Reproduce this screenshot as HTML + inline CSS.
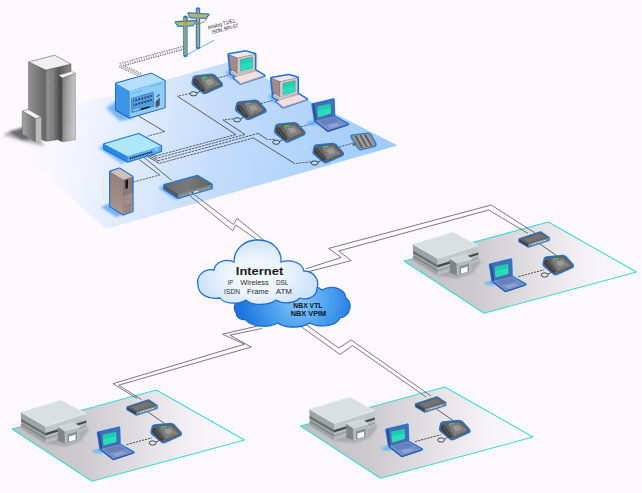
<!DOCTYPE html>
<html><head><meta charset="utf-8"><title>Network diagram</title>
<style>
html,body{margin:0;padding:0;background:#fdf8fe;}
body{width:642px;height:493px;overflow:hidden;font-family:"Liberation Sans",sans-serif;}
svg{display:block;}
text{font-family:"Liberation Sans",sans-serif;}
</style></head><body>
<svg width="642" height="493" viewBox="0 0 642 493">
<defs>
<!-- gradients -->
<linearGradient id="gMain" gradientUnits="userSpaceOnUse" x1="20" y1="110" x2="400" y2="175">
  <stop offset="0" stop-color="#fdf8fe"/>
  <stop offset="0.12" stop-color="#f7f6fe"/>
  <stop offset="0.2" stop-color="#eef2fd"/>
  <stop offset="0.3" stop-color="#e0ecfc"/>
  <stop offset="0.52" stop-color="#c4dcfb"/>
  <stop offset="0.8" stop-color="#aed2fb"/>
  <stop offset="1" stop-color="#9ac9fb"/>
</linearGradient>
<linearGradient id="gSite" gradientUnits="userSpaceOnUse" x1="0" y1="0" x2="232" y2="0">
  <stop offset="0" stop-color="#c2c2c4"/>
  <stop offset="0.35" stop-color="#cfcdd0"/>
  <stop offset="0.6" stop-color="#e6e3e7"/>
  <stop offset="0.85" stop-color="#f8f4f9"/>
  <stop offset="1" stop-color="#fdf8fe"/>
</linearGradient>
<radialGradient id="gCloudF" gradientUnits="userSpaceOnUse" cx="256" cy="276" r="58" gradientTransform="translate(0,110) scale(1,0.6)">
  <stop offset="0" stop-color="#f8fbff"/>
  <stop offset="0.55" stop-color="#eaf3fd"/>
  <stop offset="1" stop-color="#cfe3fa"/>
</radialGradient>
<radialGradient id="gCloudB" gradientUnits="userSpaceOnUse" cx="300" cy="300" r="60">
  <stop offset="0" stop-color="#8cc8fa"/>
  <stop offset="0.5" stop-color="#4aa0ee"/>
  <stop offset="1" stop-color="#1c74dc"/>
</radialGradient>
<linearGradient id="gTowerL" x1="0" y1="0" x2="1" y2="0">
  <stop offset="0" stop-color="#929292"/>
  <stop offset="0.5" stop-color="#7c7c7c"/>
  <stop offset="1" stop-color="#646464"/>
</linearGradient>
<linearGradient id="gTowerR" x1="0" y1="0" x2="1" y2="0">
  <stop offset="0" stop-color="#8e8e8e"/>
  <stop offset="0.3" stop-color="#7a7a7a"/>
  <stop offset="0.5" stop-color="#5a5a5a"/>
  <stop offset="1" stop-color="#8a8a8a"/>
</linearGradient>
<linearGradient id="gWing" x1="0" y1="0" x2="1" y2="0.15">
  <stop offset="0" stop-color="#7e7e7e"/>
  <stop offset="0.45" stop-color="#a4a4a4"/>
  <stop offset="1" stop-color="#c6c6c6"/>
</linearGradient>
<linearGradient id="gAnnex" x1="0" y1="0" x2="1" y2="0">
  <stop offset="0" stop-color="#a4a4a4"/>
  <stop offset="1" stop-color="#6c6c6c"/>
</linearGradient>
<linearGradient id="gShadow" gradientUnits="userSpaceOnUse" x1="5" y1="0" x2="45" y2="0">
  <stop offset="0" stop-color="#fdf8fe"/>
  <stop offset="0.5" stop-color="#d6d4d8"/>
  <stop offset="1" stop-color="#8c8c8e"/>
</linearGradient>
<linearGradient id="gSrvL" x1="0" y1="0" x2="0" y2="1">
  <stop offset="0" stop-color="#947c78"/>
  <stop offset="0.5" stop-color="#a08882"/>
  <stop offset="1" stop-color="#b0988e"/>
</linearGradient>
<linearGradient id="gRtTop" x1="0" y1="0" x2="1" y2="0">
  <stop offset="0" stop-color="#6a6a6a"/>
  <stop offset="0.5" stop-color="#7a7a7a"/>
  <stop offset="1" stop-color="#606060"/>
</linearGradient>
<filter id="blur1" x="-20%" y="-20%" width="140%" height="140%"><feGaussianBlur stdDeviation="0.8"/></filter>
<filter id="blur2" x="-20%" y="-20%" width="140%" height="140%"><feGaussianBlur stdDeviation="1.6"/></filter>

<!-- PHONE: local origin = top-left of bbox, approx 30x19 -->
<g id="phone">
  <ellipse cx="1.2" cy="18.8" rx="3.5" ry="2.1" fill="none" stroke="#222" stroke-width="0.8"/>
  <path d="M4.6 18 L9 15.5" stroke="#222" stroke-width="0.8" fill="none"/>
  <path d="M1.2 2.8 Q1.6 1.6 3.2 1.3 L19 -0.3 Q21 -0.4 22.2 0.9 L29.2 8.6 Q30.2 10 28.6 11 L13.6 17.8 Q11.6 18.6 10.2 17.2 L0.8 9.6 Q-0.2 8.6 0.2 7.2 Z" fill="#606060" stroke="#1b78e0" stroke-width="2.3" stroke-linejoin="round"/>
  <path d="M1.2 2.8 Q1.6 1.6 3.2 1.3 L19 -0.3 Q21 -0.4 22.2 0.9 L29.2 8.6 Q30.2 10 28.6 11 L13.6 17.8 Q11.6 18.6 10.2 17.2 L0.8 9.6 Q-0.2 8.6 0.2 7.2 Z" fill="#626262"/>
  <path d="M8 3.2 L19.5 1.6 L27.2 9.2 L14.4 14.8 Z" fill="#7e7e7e"/>
  <path d="M12.5 5 L18.8 4 L22.2 8.2 L15.8 10.4 Z" fill="#9a9a9a"/>
  <path d="M1.4 4.2 Q3.5 3.2 5 5.2 L11.6 14.2 Q12.4 16.4 10.6 16.4 Q9 16.4 7.8 15 L1.2 8.2 Q0.4 6 1.4 4.2 Z" fill="#3a3a3a"/>
  <path d="M2.6 5.2 L9.8 14.4" stroke="#5c5c5c" stroke-width="1.1" fill="none"/>
  <path d="M9.2 2.2 L14.2 1.5 L15 2.6 L10 3.4 Z" fill="#36d860"/>
  <rect x="23.3" y="8.6" width="1.3" height="1.3" fill="#e87020"/>
</g>

<!-- COMPUTER: local origin = top-left of bbox, approx 36x34 -->
<g id="pc">
  <polygon points="-3,22 3,19 8,27 2,29" fill="#58aef8" opacity="0.7" filter="url(#blur1)"/>
  <g stroke="#1a72dc" stroke-width="3" stroke-linejoin="round" fill="#1a72dc">
    <path d="M0.4 4 L17.6 1 L26.6 3.6 L26.6 19.4 L22 20.6 L28.4 20.6 L35.6 25 L12.2 32.8 L5.6 27.2 L8.4 26 L2 22.6 L2 18.6 Z"/>
  </g>
  <!-- base unit -->
  <path d="M2 20.4 L9 24.4 L27.6 19.6 L27.6 22 L9 26.8 L2 22.8 Z" fill="#c8b0b2"/>
  <path d="M2 20.4 L20 16.4 L27.6 19.6 L9 24.4 Z" fill="#f0dcdc"/>
  <!-- monitor -->
  <path d="M0.4 4 L17.6 1 L26.6 3.6 L8.9 7.4 Z" fill="#f4e4e4"/>
  <path d="M0.4 4 L8.9 7.4 L8.9 22.8 L2.1 18.6 Z" fill="#a08c8e" stroke="#6e5c5e" stroke-width="0.35"/>
  <path d="M8.9 7.4 L26.6 3.6 L26.6 19.3 L8.9 22.8 Z" fill="#dcc8c8" stroke="#7e6c6e" stroke-width="0.35"/>
  <path d="M11.9 9 L24.2 6.4 L24.2 17.6 L11.9 20.6 Z" fill="#1cd2b2" stroke="#6a7a78" stroke-width="0.4"/>
  <path d="M11.9 14 L24.2 11 L24.2 17.6 L11.9 20.6 Z" fill="#2adcbc"/>
  <!-- keyboard -->
  <path d="M5.6 27 L28.4 20.6 L35.6 25 L12.2 32.8 Z" fill="#f2e0e0"/>
  <path d="M5.6 27 L12.2 32.8 L35.6 25 L35.6 26 L12.2 33.9 L5.6 28 Z" fill="#b8a2a4"/>
</g>

<!-- LAPTOP: local origin = top-left of bbox, approx 36x32 -->
<g id="laptop">
  <polygon points="-7,23.4 2.6,20.6 8,25.4 -1,26" fill="#58aef8" opacity="0.8" filter="url(#blur1)"/>
  <path d="M0 5 L21 0 L21.6 17 L35.4 24.8 L15.4 31.4 L2.6 21.4 Z" fill="#1b78e0" stroke="#1b78e0" stroke-width="2.5" stroke-linejoin="round"/>
  <path d="M0 5 L21 0 L21.6 17 L2.6 21.4 Z" fill="#4a6ab2"/>
  <path d="M0 5 L1.6 4.6 L4 21 L2.6 21.4 Z" fill="#2c4688"/>
  <path d="M4.6 7.2 L18.2 4.2 L18.4 14.2 L5.6 17.8 Z" fill="#18d0b0"/>
  <path d="M5 12 L18.3 8.6 L18.4 14.2 L5.6 17.8 Z" fill="#2adcbc"/>
  <path d="M2.6 21.4 L21.6 17 L35.4 24.8 L15.4 31.4 Z" fill="#7890c8"/>
  <path d="M6 21.6 L21 18.2 L27 21.6 L11.6 25.6 Z" fill="#6680bc"/>
  <path d="M15 26.2 L24 23.8 L27.4 25.8 L18 28.6 Z" fill="#90a4d4"/>
  <path d="M2.6 21.4 L15.4 31.4 L35.4 24.8 L35.4 25.8 L15.4 32.5 L2.6 22.4 Z" fill="#34509a"/>
</g>

<!-- SMALL ROUTER (sites): local origin = left corner of top face at (0,7.1) ; bbox approx 30x15 -->
<g id="srouter">
  <path d="M0 7.1 L21.3 0 L29.8 5.7 L29.8 8.3 L9.2 15 L0 9.6 Z" fill="#1b78e0" stroke="#1b78e0" stroke-width="1.7" stroke-linejoin="round"/>
  <path d="M0 7.1 L21.3 0 L29.8 5.7 L9.2 12.1 Z" fill="#626262"/>
  <path d="M4 7.2 L21 1.6 L26.4 5.4 L9.6 10.6 Z" fill="#747474"/>
  <path d="M0 7.1 L9.2 12.1 L9.2 15 L0 9.6 Z" fill="#444"/>
  <path d="M9.2 12.1 L29.8 5.7 L29.8 8.3 L9.2 15 Z" fill="#8a8a8a"/>
  <path d="M13 12.3 L27 8" stroke="#e8e8e8" stroke-width="1" stroke-dasharray="1.6 0.8" fill="none"/>
</g>

<!-- SITE (remote office): coordinates are absolute for site A -->
<g id="site">
  <polygon points="404,261 548.3,222 636.5,272 484,313.2" fill="url(#gSiteA)" stroke="#3fd9d6" stroke-width="1.1" stroke-linejoin="round"/>
  <!-- building shadow -->
  <polygon points="411,259 438,276 458,278.5 473,273 481,262 476,254 440,264" fill="#98989a" opacity="0.6" filter="url(#blur1)"/>
  <!-- building -->
  <polygon points="412.8,244.1 437.6,258.4 437.6,274.9 413.3,260" fill="#9ca4a4"/>
  <polygon points="437.6,258.4 478.1,245.6 478.6,261.4 437.6,274.9" fill="#c0c8c8"/>
  <polygon points="437.6,267.6 478.4,255 478.6,261.4 437.6,274.9" fill="#b4bcbc"/>
  <polygon points="412.8,244.1 453.3,232 478.1,245.6 437.6,258.4" fill="#d8e0e2" stroke="#eaf0f0" stroke-width="0.7" stroke-linejoin="round"/>
  <polygon points="413,250.8 437.6,265 437.6,267.6 413,253.2" fill="#666e6e"/>
  <polygon points="437.6,265 478.3,252.4 478.3,254.8 437.6,267.6" fill="#444c4c"/>
  <polygon points="413.1,255.6 437.6,270 437.6,271.4 413.1,257" fill="#7a8282"/>
  <polygon points="437.6,270 478.4,257.4 478.4,258.6 437.6,271.4" fill="#929a9a"/>
  <!-- portico -->
  <polygon points="449.8,258.6 456.8,263.3 456.8,275.2 449.8,272.8" fill="#7e8686"/>
  <polygon points="456.8,263.3 471.7,259 471.7,271.2 456.8,275.2" fill="#b2baba"/>
  <polygon points="449.8,258.6 466.4,254.6 471.7,259 456.8,263.3" fill="#ced6d8" stroke="#e4eaea" stroke-width="0.4"/>
  <polygon points="459.6,266.4 469,263.8 469,271.6 459.6,274.2" fill="#868e8e"/>
  <polygon points="461,268.4 467.6,266.6 467.6,271.8 461,273.6" fill="#f8fcfc"/>
  <!-- wires -->
  <polyline points="539.6,243.8 557,255.8" fill="none" stroke="#262626" stroke-width="0.7"/>
  <polyline points="518.5,276.6 544.2,269.8" fill="none" stroke="#262626" stroke-width="0.8" stroke-dasharray="2.2 1"/>
  <use href="#srouter" x="519.2" y="232"/>
  <use href="#laptop" x="490" y="259.6"/>
  <use href="#phone" x="543.4" y="256.2"/>
</g>
<linearGradient id="gSiteA" gradientUnits="userSpaceOnUse" x1="404" y1="0" x2="636" y2="0">
  <stop offset="0" stop-color="#c0c0c2"/>
  <stop offset="0.3" stop-color="#cccacd"/>
  <stop offset="0.55" stop-color="#e2dfe3"/>
  <stop offset="0.8" stop-color="#f6f2f7"/>
  <stop offset="1" stop-color="#fdf8fe"/>
</linearGradient>

</defs>
<rect width="642" height="493" fill="#fdf8fe"/>
<!-- ===== main blue plane ===== -->
<polygon points="232,61 397.5,145.6 106,229 6,140 0,127" fill="url(#gMain)"/>

<!-- ===== skyscraper ===== -->
<g id="tower">
  <polygon points="3,135 12,130 24,127 40,138 44,146 22,141" fill="#9a9a9c" opacity="0.8" filter="url(#blur2)"/>
  <polygon points="9,132.5 23,128 30,140 22,139.5" fill="#5c5c5e" opacity="0.8" filter="url(#blur1)"/>
  <!-- main tower -->
  <polygon points="28.6,61.9 45.8,70.1 45.8,141.2 28.6,134" fill="url(#gTowerL)" stroke="#5a5a5a" stroke-width="0.5"/>
  <polygon points="45.8,70.1 71,64.1 71,138 45.8,141.2" fill="url(#gTowerR)" stroke="#5a5a5a" stroke-width="0.5"/>
  <path d="M49 74 L49 138 M52.4 73 L52.4 138" stroke="#b8b8b8" stroke-width="0.9" stroke-dasharray="1.2 1.6" fill="none" opacity="0.7"/>
  <polygon points="28.6,61.9 54.7,55.2 71,64.1 45.8,70.1" fill="#f0f0f0" stroke="#5e5e5e" stroke-width="0.6" stroke-linejoin="round"/>
  <!-- right wing -->
  <polygon points="58.5,75.3 62.5,78 62.5,142 58.5,140.4" fill="#4c4c4c"/>
  <polygon points="62.5,78 75.4,73.5 75.4,139.6 62.5,142" fill="url(#gWing)" stroke="#6a6a6a" stroke-width="0.4"/>
  <polygon points="58.5,75.3 71.4,71.3 75.4,73.5 62.5,78" fill="#f2f2f2" stroke="#5e5e5e" stroke-width="0.5" stroke-linejoin="round"/>
  <!-- left annex -->
  <polygon points="22.3,111 35.7,118.6 35.7,141.6 22.3,134.4" fill="url(#gAnnex)" stroke="#5a5a5a" stroke-width="0.5"/>
  <polygon points="35.7,118.6 41.3,117 41.3,140.4 35.7,141.6" fill="#bcbcbc"/>
  <polygon points="22.3,111 27.9,109.2 41.3,117 35.7,118.6" fill="#f2f2f2" stroke="#5e5e5e" stroke-width="0.5" stroke-linejoin="round"/>
</g>

<!-- ===== remote sites ===== -->
<use href="#site"/>
<use href="#site" transform="translate(-392,168)"/>
<use href="#site" transform="translate(-103.5,165)"/>

<!-- ===== WAN double lines ===== -->
<g fill="none" stroke="#343434" stroke-width="0.65" stroke-linejoin="miter">
  <!-- router -> cloud -->
  <polyline points="194.3,194.6 233.5,224.5 237,218.3 264,240.5"/>
  <polyline points="189.6,195.6 232.6,230.5 235.8,224.9 258,240.5"/>
  <!-- cloud -> site A -->
  <polyline points="306,268.8 341.2,257.5 328.7,248.4 491.2,205 535,233"/>
  <polyline points="309,271.6 351.2,260.6 338.7,251 488.7,210 528,233.4"/>
  <!-- cloud -> site B -->
  <polyline points="262,325 222.5,334.2 244.5,344.2 113,383.7 137,398.5"/>
  <polyline points="262,328.4 230,335.2 251.2,347 118.7,385.2 141.5,399.6"/>
  <!-- cloud -> site C -->
  <polyline points="302.5,322 338.7,348 351.2,340 431,396"/>
  <polyline points="297.5,324 340,354.5 352.5,345.5 426,397"/>
</g>

<!-- ===== trunk (ladder) line from pole ===== -->
<g fill="none" stroke-linejoin="miter">
  <polyline points="184,47.7 119.4,65.2 141.4,75.3" stroke="#3a3a3a" stroke-width="3.9" stroke-dasharray="1.5 0.9"/>
  <polyline points="184.5,47.56 119.4,65.2 141.8,75.5" stroke="#fbf7fd" stroke-width="2.7"/>
  <polyline points="184,47.7 119.4,65.2" stroke="#8a8a8a" stroke-width="2.7" stroke-dasharray="0.6 1.8"/>
  <polyline points="119.4,65.2 141.4,75.3" stroke="#777" stroke-width="0.6"/>
</g>

<!-- ===== LAN wires ===== -->
<g fill="none" stroke="#262626" stroke-width="0.7">
  <!-- chassis -> switch -->
  <polyline points="138.7,116 164.5,131.6"/>
  <polyline points="164.5,131.6 147.5,136.2" stroke-dasharray="2.2 1"/>
  <!-- server -> switch -->
  <polyline points="133.4,182 159.6,175" stroke-dasharray="2.2 1"/>
  <polyline points="159.6,175 139,159.5"/>
  <!-- switch -> router -->
  <polyline points="143.7,157.1 171.7,180.5"/>
  <!-- hooks from switch to bundle -->
  <polyline points="151.5,153.4 156.4,155.8"/>
  <polyline points="149.6,154.2 157.2,158.2"/>
  <polyline points="147.8,155 158.2,160.8"/>
  <polyline points="146,155.8 159.2,163.4"/>
  <!-- phone1 -->
  <polyline points="190.5,93.4 177.4,96.2" stroke-dasharray="2.2 1"/>
  <polyline points="177.4,96.2 235.8,134.5"/>
  <polyline points="235.8,134.5 156.4,155.8" stroke-dasharray="2.6 0.9"/>
  <!-- phone2 -->
  <polyline points="233.4,118.8 223.1,119.9" stroke-dasharray="2.2 1"/>
  <polyline points="223.1,119.9 244.9,134.5"/>
  <polyline points="244.9,134.5 157.2,158.2" stroke-dasharray="2.6 0.9"/>
  <!-- phone3 -->
  <polyline points="274.5,139.2 267.5,139.7" stroke-dasharray="2.2 1"/>
  <polyline points="267.5,139.7 258.2,133.4"/>
  <polyline points="258.2,133.4 158.2,160.8" stroke-dasharray="2.6 0.9"/>
  <!-- phone4 -->
  <polyline points="311,161.8 294.8,163.6" stroke-dasharray="2.2 1"/>
  <polyline points="294.8,163.6 253.5,138"/>
  <polyline points="253.5,138 159.2,163.4" stroke-dasharray="2.6 0.9"/>
  <!-- phone -> pc dashed -->
  <polyline points="214,79 231,74.6" stroke-dasharray="2.2 1"/>
  <polyline points="258,104.4 274,100" stroke-dasharray="2.2 1"/>
  <polyline points="298,127.6 315,123" stroke-dasharray="2.2 1"/>
  <polyline points="336,148 353,143" stroke-dasharray="2.2 1"/>
</g>

<!-- ===== telephone poles ===== -->
<g id="poles">
  <polyline points="185.8,55.4 214,40.3" fill="none" stroke="#5aa8f4" stroke-width="0.9"/>
  <g stroke="#1b78e0" fill="#1b78e0" stroke-linejoin="round" stroke-linecap="round">
    <line x1="198" y1="9.4" x2="198" y2="47" stroke-width="4.4"/>
    <polygon points="188.4,13.4 208.4,14.6 205.4,17.8 191,17.2" stroke-width="2.4"/>
    <line x1="185.4" y1="17.6" x2="185.4" y2="55" stroke-width="4.4"/>
    <polygon points="175.8,22.2 195.2,21.2 192.8,25 178.4,25.8" stroke-width="2.4"/>
  </g>
  <g stroke="#b6b676" fill="#b6b676" stroke-linecap="butt">
    <line x1="198" y1="9.4" x2="198" y2="47" stroke-width="2.3"/>
    <polygon points="188.4,13.6 208.4,14.8 205.4,17.6 191,17" stroke-width="0.6"/>
    <line x1="185.4" y1="17.6" x2="185.4" y2="55" stroke-width="2.3"/>
    <polygon points="175.8,22.4 195.2,21.4 192.8,24.8 178.4,25.6" stroke-width="0.6"/>
  </g>
  <path d="M189 13 L208 14.2 M176.4 21.8 L194.8 20.8" fill="none" stroke="#5c6c3c" stroke-width="1" stroke-dasharray="0.8 1.2"/>
  <path d="M198 10 L198 46.5 M185.4 18 L185.4 54.5" fill="none" stroke="#8c8c54" stroke-width="0.7"/>
  <path d="M189.4 16 Q186.6 19 185.8 23.4 M207.4 17.2 Q205.4 23.4 195.4 24.4" fill="none" stroke="#a87020" stroke-width="0.9"/>
</g>
<g transform="translate(208.2,29.4) rotate(-15)" font-size="5.3" fill="#262626">
  <text x="0" y="0" textLength="29.4" lengthAdjust="spacingAndGlyphs">Analog T1/E1,</text>
  <text x="2.7" y="5.6" textLength="27.4" lengthAdjust="spacingAndGlyphs">ISDN, BRI-ST</text>
</g>

<!-- ===== NBX chassis ===== -->
<g id="chassis">
  <polygon points="106,108 118,100 134,118 120,121" fill="#4a9cf0" opacity="0.7" filter="url(#blur2)"/>
  <path d="M116,83.4 L151.3,73.5 L164.7,80.8 L164.7,107.5 L129.6,117.6 L116,110 Z" fill="#1458b4" stroke="#155cbc" stroke-width="1.8" stroke-linejoin="round"/>
  <polygon points="116,83.4 129.6,91.2 129.6,117.6 116,110" fill="#3c94e6"/>
  <polygon points="129.6,91.2 164.7,80.8 164.7,107.5 129.6,117.6" fill="#8ecdf8"/>
  <polygon points="116,83.4 151.3,73.5 164.7,80.8 129.6,91.2" fill="#b2e0fb"/>
  <polygon points="131.4,98.4 153.3,92.2 153.7,106.4 131.8,112.6" fill="#4f9fe4" stroke="#1c5cb0" stroke-width="0.5"/>
  <path d="M133.2 101 L152 95.7 M133.2 105.2 L152 99.9" stroke="#1e3c64" stroke-width="1.7" fill="none"/>
  <path d="M134 100.8 L152 95.7 M134 105 L152 99.9" stroke="#bfe0f8" stroke-width="0.9" stroke-dasharray="1.2 2" fill="none"/>
  <path d="M141 109.3 L149.5 106.9" stroke="#111" stroke-width="1.5" fill="none"/>
  <path d="M133.5 110.4 L138.5 109" stroke="#bfe0f8" stroke-width="0.9" fill="none"/>
  <path d="M155.6 101.4 L159.8 97.4 L159.8 105.3 L155.6 107.7 Z" fill="#4a5668"/>
  <path d="M156.8 97 L159.6 94.4" stroke="#3c4c60" stroke-width="1.2" fill="none"/>
  <path d="M131.5 93.6 L142.5 90.5 M150 86.6 L162 83.2" stroke="#5fb0ec" stroke-width="0.9" fill="none"/>
</g>

<!-- ===== switch ===== -->
<g id="switch">
  <polygon points="98,148 106,143 128,160 122,164" fill="#4a9cf0" opacity="0.6" filter="url(#blur1)"/>
  <path d="M104.2,144.3 L138.6,134.1 L160.9,146.3 L160.9,151.2 L127.5,161.5 L104.2,149 Z" fill="#1b78e0" stroke="#1b78e0" stroke-width="2.4" stroke-linejoin="round"/>
  <polygon points="104.2,144.3 138.6,134.1 160.9,146.3 127.5,156.4" fill="#aee6fa"/>
  <polygon points="104.2,144.3 127.5,156.4 127.5,161.5 104.2,149" fill="#2c88e4"/>
  <polygon points="127.5,156.4 160.9,146.3 160.9,151.2 127.5,161.5" fill="#62b0f0"/>
  <path d="M129.6 158.6 L152.6 151.8" stroke="#22364e" stroke-width="1.7" stroke-dasharray="1.7 0.5" fill="none"/>
  <rect x="155.6" y="148.6" width="1.6" height="1.3" fill="#f4f8fc"/>
</g>

<!-- ===== server tower ===== -->
<g id="server">
  <polygon points="101,207 110,203 124,214 116,217" fill="#4a9cf0" opacity="0.7" filter="url(#blur1)"/>
  <path d="M110.2,171.7 L119.3,168.6 L132.5,176.7 L132.5,211.2 L123.4,214.4 L110.2,206.2 Z" fill="#1b78e0" stroke="#1b78e0" stroke-width="2.4" stroke-linejoin="round"/>
  <polygon points="110.2,171.7 123.4,179.8 123.4,214.4 110.2,206.2" fill="url(#gSrvL)"/>
  <polygon points="123.4,179.8 132.5,176.7 132.5,211.2 123.4,214.4" fill="#8c7676"/>
  <polygon points="123.4,196 132.5,193 132.5,211.2 123.4,214.4" fill="#a08c88"/>
  <polygon points="110.2,171.7 119.3,168.6 132.5,176.7 123.4,179.8" fill="#d2c0b8"/>
  <polygon points="125.4,180.4 128,179.4 128,188 125.4,189" fill="#141414"/>
  <path d="M123.4 207 L132.5 204 M126.4 206.4 L126.4 213.2 M129.4 205.4 L129.4 212.2" stroke="#7c6866" stroke-width="0.6" fill="none"/>
</g>

<!-- ===== router (main site) ===== -->
<g id="router">
  <polygon points="158,188 166,184 182,197 176,200" fill="#4a9cf0" opacity="0.6" filter="url(#blur1)"/>
  <path d="M164.3,185.2 L197.5,175.9 L211.7,184.6 L211.7,188.2 L178,197.8 L164.3,189 Z" fill="#1b78e0" stroke="#1b78e0" stroke-width="2.4" stroke-linejoin="round"/>
  <polygon points="164.3,185.2 197.5,175.9 211.7,184.6 178,194" fill="url(#gRtTop)"/>
  <polygon points="164.3,185.2 178,194 178,197.8 164.3,189" fill="#585858"/>
  <polygon points="178,194 211.7,184.6 211.7,188.2 178,197.8" fill="#848484"/>
  <path d="M179.5 196.4 L189 193.7 M199 190.9 L210.5 187.6" stroke="#b0b0b0" stroke-width="1.1" stroke-dasharray="1 0.9" fill="none"/>
  <path d="M189.6 193.6 L198 191.2" stroke="#f0f0f0" stroke-width="1.2" fill="none"/>
  <path d="M191.4 193.1 L193.4 192.5" stroke="#222" stroke-width="1.2" fill="none"/>
</g>

<!-- ===== phones / PCs / laptop / fax ===== -->
<use href="#phone" x="192.4" y="75"/>
<use href="#phone" x="236" y="101"/>
<use href="#phone" x="275" y="123.4"/>
<use href="#phone" x="313.4" y="144.2"/>
<use href="#pc" x="228.4" y="50.6"/>
<use href="#pc" x="271" y="74.2"/>
<use href="#laptop" x="312.5" y="99.4"/>
<g id="fax">
  <path d="M352,135.6 L367.6,133.6 Q369.6,133.4 370.6,135 L375.4,143.6 Q376,145.4 374,146 L361.4,149.2 Q359.4,149.6 358.4,148 L352,138 Q351.2,136 352,135.6 Z" fill="#8c8c8c" stroke="#1b78e0" stroke-width="2.3" stroke-linejoin="round"/>
  <path d="M352,135.6 L367.6,133.6 Q369.6,133.4 370.6,135 L375.4,143.6 Q376,145.4 374,146 L361.4,149.2 Q359.4,149.6 358.4,148 L352,138 Q351.2,136 352,135.6 Z" fill="#8e8e8e"/>
  <path d="M355.6 135.6 L362.4 148.2 M360.2 135 L367 147 M364.8 134.4 L371.6 145.8" stroke="#585858" stroke-width="1.4" fill="none"/>
  <path d="M357.8 135.4 L364.6 147.6 M362.4 134.8 L369.2 146.4 M367 134.2 L373.6 145.2" stroke="#b0b0b0" stroke-width="0.9" fill="none"/>
  <rect x="366.6" y="145.2" width="1.2" height="1.2" fill="#e87020"/>
  <path d="M352.4 144 L355.4 142.6 L356.6 145 L353 146 Z" fill="#686868"/>
</g>

<!-- ===== cloud ===== -->
<g id="cloud">
  <path d="M236,313 C231,305 238,296 250,297 C256,288 270,287 280,292 C292,284 312,282 322,290 C332,284 345,289 346,298 C353,303 351,316 340,318 C336,327 318,328 310,323 C300,329 284,328 278,323 C266,329 250,326 246,320 C240,320 236,317 236,313 Z" fill="url(#gCloudB)" stroke="#1560c4" stroke-width="1.1"/>
  <path d="M198,285 C196,276 204,268 214,270 C215,262 226,258 234,262 C234,248 246,239.6 258,240 C272,239.6 282,250 281,262 C290,259 302,262 304,271 C313,271 320,279 317,288 C317,296 308,301 300,298 C294,304 282,304 276,300 C268,306 252,306 246,300 C238,305 224,304 220,298 C208,300 198,294 198,285 Z" fill="url(#gCloudF)" stroke="#1f6fce" stroke-width="1.3"/>
</g>
<g fill="#1a1a1a">
  <text x="235.8" y="274.6" font-size="11.6" font-weight="bold" textLength="47.5" lengthAdjust="spacingAndGlyphs">Internet</text>
  <g font-size="7" fill="#2c2c2c" lengthAdjust="spacingAndGlyphs">
    <text x="227.7" y="285.3" textLength="5.4" lengthAdjust="spacingAndGlyphs">IP</text>
    <text x="240.3" y="285.3" textLength="28.4" lengthAdjust="spacingAndGlyphs">Wireless</text>
    <text x="275.9" y="285.3" textLength="12.5" lengthAdjust="spacingAndGlyphs">DSL</text>
    <text x="224.1" y="293.5" textLength="15.9" lengthAdjust="spacingAndGlyphs">ISDN</text>
    <text x="247.1" y="293.5" textLength="21.6" lengthAdjust="spacingAndGlyphs">Frame</text>
    <text x="275.7" y="293.5" textLength="16.2" lengthAdjust="spacingAndGlyphs">ATM</text>
  </g>
  <g font-size="7" font-weight="bold" fill="#0c1424">
    <text x="293.3" y="308.1" textLength="29.2" lengthAdjust="spacingAndGlyphs">NBX VTL</text>
    <text x="290.8" y="316.2" textLength="35.4" lengthAdjust="spacingAndGlyphs">NBX VPIM</text>
  </g>
</g>

</svg>
</body></html>
